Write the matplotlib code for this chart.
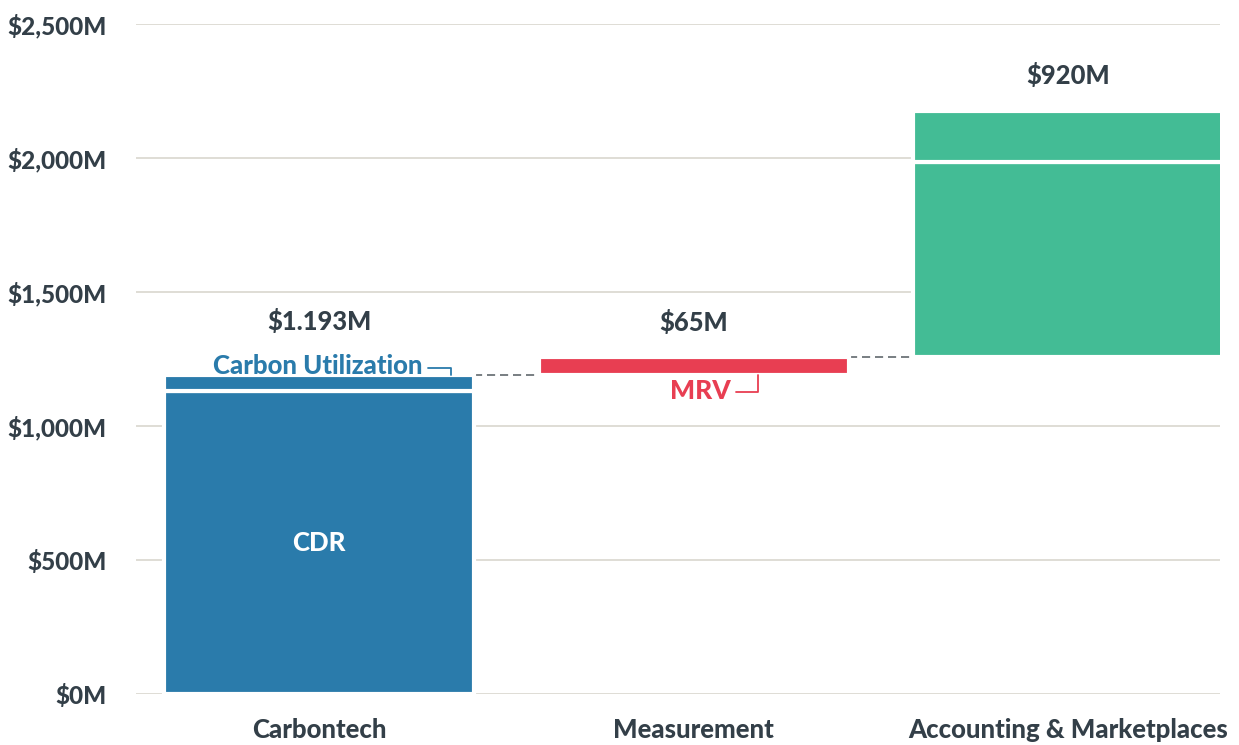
import matplotlib
matplotlib.use("Agg")
import matplotlib.pyplot as plt

# Waterfall data ($M)
categories = ["Carbontech", "Measurement", "Accounting & Marketplaces"]
segments = [[1130, 63], [65], [728, 192]]          # stacked pieces per step
segment_names = [["CDR", "Carbon Utilization"], ["MRV"], ["", ""]]
total_labels = ["$1.193M", "$65M", "$920M"]
y_ticks = [0, 500, 1000, 1500, 2000, 2500]
y_tick_labels = ["$0M", "$500M", "$1,000M", "$1,500M", "$2,000M", "$2,500M"]

colors = ["#2a7bab", "#e83e52", "#43bc95"]
TEXT = "#333f48"
GRID = "#dcdad2"
W = 900

plt.rcParams["font.family"] = ["Lato", "DejaVu Sans"]
plt.rcParams["font.weight"] = W

fig = plt.figure(figsize=(12.39, 7.45), dpi=100)
ax = fig.add_axes([0.1098, 0.068, 0.8749, 0.8994])

width = 0.827
base = 0
bottoms, tops = [], []
for i, (segs, color) in enumerate(zip(segments, colors)):
    start = base
    for v in segs:
        ax.bar(i, v, bottom=base, width=width, color=color,
               edgecolor="white", linewidth=3.0, zorder=2)
        base += v
    bottoms.append(start)
    tops.append(base)

# dashed connectors between steps
for i in range(len(categories) - 1):
    ax.plot([i + width / 2, i + 1 - width / 2], [tops[i], tops[i]],
            color="#6d7478", lw=1.3, ls=(0, (4.5, 2.7)), zorder=1)

# total labels
offsets = [38, 25, 25]
for i, (lab, off) in enumerate(zip(total_labels, offsets)):
    ax.annotate(lab, xy=(i, tops[i]), xytext=(0, off), textcoords="offset points",
                ha="center", va="center", fontsize=18.4, color=TEXT, fontweight=W)

# CDR label inside bar
ax.text(0, segments[0][0] / 2, segment_names[0][0], ha="center", va="center",
        color="white", fontsize=18.5, fontweight=W, zorder=3)

# Carbon Utilization callout
ax.annotate(segment_names[0][1], xy=(0 + width / 2 - 0.06, tops[0]),
            xytext=(-20.5, 6), textcoords="offset points",
            ha="right", va="center", fontsize=18.5, color=colors[0], fontweight=W,
            arrowprops=dict(arrowstyle="-", color=colors[0], lw=1.3,
                            shrinkA=2, shrinkB=0, relpos=(1.0, 0.42),
                            connectionstyle="angle,angleA=0,angleB=90,rad=0"))

# MRV callout
ax.annotate(segment_names[1][0], xy=(1 + 0.173, bottoms[1]),
            xytext=(-20, -11.5), textcoords="offset points",
            ha="right", va="center", fontsize=19, color=colors[1], fontweight=W,
            arrowprops=dict(arrowstyle="-", color=colors[1], lw=1.3,
                            shrinkA=2, shrinkB=0, relpos=(1.0, 0.42),
                            connectionstyle="angle,angleA=0,angleB=90,rad=0"))

ax.set_xlim(-0.488, 2.405)
ax.set_ylim(0, 2500)
ax.set_yticks(y_ticks)
ax.set_yticklabels(y_tick_labels)
ax.set_xticks(range(len(categories)))
ax.set_xticklabels(categories)
ax.tick_params(axis="y", length=0, pad=21, labelsize=17.5, labelcolor=TEXT)
ax.tick_params(axis="x", length=0, pad=17, labelsize=18.5, labelcolor=TEXT)
ax.yaxis.grid(True, color=GRID, lw=1.3)
ax.set_axisbelow(True)
for s in ax.spines.values():
    s.set_visible(False)

fig.savefig("out.png", dpi=100)
